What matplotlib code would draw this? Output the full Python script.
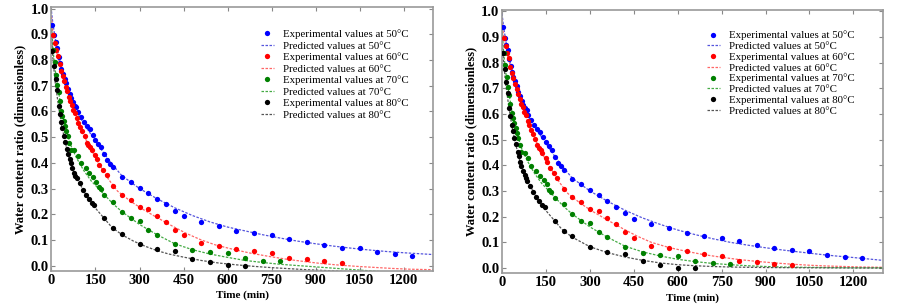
import matplotlib
matplotlib.use("Agg")
import matplotlib.pyplot as plt

plt.rcParams['font.family'] = ['Liberation Serif', 'DejaVu Serif']

# ---------------- experimental data (shared by both panels) ----------------
t50 = [3, 9, 15, 19, 24, 29, 34, 39, 45, 50, 55, 62, 68, 73, 80, 85, 89,
       100, 110, 120, 130, 140, 150, 160, 170, 180, 190, 200, 210,
       240, 270, 300, 330, 360, 390, 420, 450, 510, 570, 630, 690, 750,
       810, 870, 930, 990, 1050, 1110, 1170, 1230]
y50 = [0.938, 0.896, 0.870, 0.847, 0.812, 0.788, 0.765, 0.745, 0.727, 0.710,
       0.687, 0.668, 0.652, 0.635, 0.623, 0.617, 0.596,
       0.578, 0.558, 0.542, 0.531, 0.509, 0.490, 0.474, 0.460, 0.434, 0.410,
       0.397, 0.382,
       0.345, 0.326, 0.303, 0.284, 0.261, 0.239, 0.213, 0.192, 0.171, 0.156,
       0.135, 0.126, 0.118, 0.105, 0.091, 0.079, 0.069, 0.068, 0.051, 0.044,
       0.038]

t60 = [6, 12, 17, 22, 28, 34, 38, 44, 50, 54, 60, 64, 70, 75, 81, 87, 92,
       98, 105, 113, 121, 126, 132, 137, 150, 155, 163, 176, 188,
       210, 240, 270, 300, 330, 360, 390, 420, 450, 510, 570, 630, 690, 750,
       810, 870, 930, 990]
y60 = [0.896, 0.866, 0.838, 0.817, 0.784, 0.758, 0.739, 0.717, 0.697, 0.678,
       0.658, 0.639, 0.626, 0.607, 0.594, 0.574, 0.555, 0.538, 0.522, 0.503,
       0.479, 0.469, 0.460, 0.448, 0.430, 0.413, 0.391, 0.371, 0.352,
       0.309, 0.275, 0.256, 0.229, 0.221, 0.194, 0.170, 0.139, 0.118, 0.086,
       0.077, 0.065, 0.055, 0.048, 0.029, 0.025, 0.016, 0.012]

t70 = [6, 11, 16, 20, 25, 28, 33, 37, 41, 46, 51, 55, 61, 66, 77, 89, 100,
       117, 128, 142, 153, 162, 168, 180, 210, 240, 270, 300, 330, 360,
       420, 480, 540, 600, 660, 720, 780]
y70 = [0.838, 0.791, 0.743, 0.704, 0.674, 0.639, 0.603, 0.583, 0.564, 0.544,
       0.525, 0.505, 0.479, 0.451, 0.449, 0.427, 0.399, 0.379, 0.360, 0.344,
       0.326, 0.305, 0.297, 0.273, 0.248, 0.209, 0.184, 0.174, 0.139, 0.119,
       0.083, 0.060, 0.052, 0.048, 0.029, 0.018, 0.016]

t80 = [3, 9, 14, 19, 24, 28, 33, 37, 42, 47, 53, 57, 62, 66, 71, 77, 81, 86,
       96, 107, 117, 127, 137, 146, 180, 210, 240, 300, 360, 420, 480, 540,
       600, 660]
y80 = [0.836, 0.775, 0.726, 0.682, 0.623, 0.590, 0.557, 0.535, 0.505, 0.483,
       0.453, 0.435, 0.413, 0.399, 0.379, 0.362, 0.349, 0.340, 0.321, 0.295,
       0.275, 0.261, 0.245, 0.236, 0.184, 0.145, 0.123, 0.083, 0.064, 0.055,
       0.027, 0.013, 0.001, -0.001]

# ---------------- predicted curves, left panel ----------------
pt50_l = [0, 5, 15, 30, 60, 90, 120, 150, 180, 210, 240, 300, 360, 420, 480,
          540, 600, 660, 720, 780, 840, 900, 960, 1020, 1080, 1140, 1200, 1300]
pv50_l = [0.99, 0.94, 0.87, 0.79, 0.67, 0.59, 0.535, 0.485, 0.435, 0.39, 0.35,
          0.30, 0.26, 0.225, 0.195, 0.17, 0.15, 0.135, 0.12, 0.107, 0.095,
          0.085, 0.076, 0.068, 0.061, 0.055, 0.05, 0.043]

pt60_l = [0, 5, 20, 50, 75, 100, 135, 165, 195, 225, 270, 310, 355, 410, 460,
          510, 560, 620, 680, 740, 800, 860, 920, 980, 1040, 1100, 1160, 1220,
          1300]
pv60_l = [0.97, 0.90, 0.82, 0.70, 0.61, 0.53, 0.45, 0.39, 0.335, 0.29, 0.25,
          0.22, 0.19, 0.155, 0.125, 0.10, 0.08, 0.063, 0.048, 0.036, 0.025,
          0.016, 0.008, 0.002, -0.003, -0.007, -0.011, -0.014, -0.016]

pt70_l = [0, 5, 15, 25, 35, 50, 65, 85, 110, 135, 160, 185, 210, 240, 270,
          300, 330, 360, 420, 480, 540, 600, 660, 720, 780, 840, 900, 960,
          1020, 1080, 1140]
pv70_l = [0.93, 0.84, 0.74, 0.67, 0.60, 0.53, 0.47, 0.42, 0.37, 0.33, 0.30,
          0.27, 0.24, 0.21, 0.185, 0.16, 0.14, 0.12, 0.085, 0.062, 0.045,
          0.032, 0.02, 0.012, 0.005, 0.0, -0.005, -0.01, -0.015, -0.02, -0.025]

pt80_l = [0, 3, 12, 24, 34, 47, 60, 77, 96, 120, 145, 175, 205, 240, 280, 320,
          360, 400, 450, 510, 570, 630, 690, 750, 810, 870, 930, 990, 1050]
pv80_l = [0.92, 0.83, 0.72, 0.62, 0.55, 0.48, 0.42, 0.36, 0.32, 0.27, 0.23,
          0.19, 0.15, 0.12, 0.095, 0.075, 0.058, 0.045, 0.033, 0.02, 0.01,
          0.003, -0.003, -0.008, -0.012, -0.016, -0.019, -0.022, -0.025]

# ---------------- predicted curves, right panel ----------------
pt50_r = [0, 5, 15, 30, 60, 90, 120, 150, 180, 210, 240, 300, 360, 420, 480,
          540, 600, 660, 720, 780, 840, 900, 960, 1020, 1080, 1140, 1200, 1300]
pv50_r = [0.99, 0.94, 0.87, 0.79, 0.67, 0.59, 0.535, 0.485, 0.435, 0.39, 0.35,
          0.30, 0.26, 0.225, 0.195, 0.17, 0.148, 0.13, 0.114, 0.1, 0.089,
          0.079, 0.07, 0.062, 0.054, 0.047, 0.041, 0.03]

pt60_r = [0, 5, 20, 50, 75, 100, 135, 165, 195, 225, 270, 310, 355, 410, 460,
          510, 570, 630, 690, 750, 810, 870, 930, 990, 1050, 1110, 1170, 1230,
          1300]
pv60_r = [0.97, 0.90, 0.82, 0.70, 0.61, 0.53, 0.45, 0.39, 0.335, 0.29, 0.25,
          0.22, 0.19, 0.155, 0.125, 0.10, 0.08, 0.065, 0.052, 0.042, 0.033,
          0.026, 0.02, 0.015, 0.011, 0.008, 0.006, 0.004, 0.003]

pt70_r = [0, 5, 15, 25, 35, 50, 65, 85, 110, 135, 160, 185, 210, 240, 270,
          300, 330, 360, 420, 480, 540, 600, 660, 720, 780, 840, 900, 960,
          1020, 1100, 1200, 1300]
pv70_r = [0.93, 0.84, 0.74, 0.67, 0.60, 0.53, 0.47, 0.42, 0.37, 0.33, 0.30,
          0.27, 0.24, 0.21, 0.185, 0.16, 0.14, 0.12, 0.085, 0.063, 0.047,
          0.034, 0.025, 0.018, 0.013, 0.009, 0.006, 0.004, 0.003, 0.002,
          0.001, 0.001]

pt80_r = [0, 3, 12, 24, 34, 47, 60, 77, 96, 120, 145, 175, 205, 240, 300, 360,
          420, 480, 540, 600, 660, 720, 780, 900, 1050, 1300]
pv80_r = [0.92, 0.83, 0.72, 0.62, 0.55, 0.48, 0.42, 0.36, 0.32, 0.27, 0.23,
          0.19, 0.15, 0.12, 0.083, 0.06, 0.043, 0.03, 0.02, 0.013, 0.009,
          0.006, 0.004, 0.002, 0.001, 0.0]

temps = ['50', '60', '70', '80']
mcolors = ['#0000ff', '#ff0000', '#008000', '#000000']
lcolors = ['#5555dd', '#ff6666', '#44aa44', '#555555']
xticks = [0, 150, 300, 450, 600, 750, 900, 1050, 1200]
yticks = [0.0, 0.1, 0.2, 0.3, 0.4, 0.5, 0.6, 0.7, 0.8, 0.9, 1.0]

exp_t = [t50, t60, t70, t80]
exp_y = [y50, y60, y70, y80]
pred_left = [(pt50_l, pv50_l), (pt60_l, pv60_l), (pt70_l, pv70_l), (pt80_l, pv80_l)]
pred_right = [(pt50_r, pv50_r), (pt60_r, pv60_r), (pt70_r, pv70_r), (pt80_r, pv80_r)]

fig = plt.figure(figsize=(9.03, 3.08), dpi=100)
ax1 = fig.add_axes([0.057, 0.121, 0.4225, 0.855])
ax2 = fig.add_axes([0.556, 0.113, 0.4215, 0.855])

legend_anchor = {0: (0.955, 0.945), 1: (0.945, 0.95)}
legend_spacing = {0: 0.17, 1: 0.1}

for k, (ax, preds) in enumerate(((ax1, pred_left), (ax2, pred_right))):
    for i in range(4):
        ax.plot(exp_t[i], exp_y[i], 'o', color=mcolors[i], ms=3.8, mew=0,
                label=f'Experimental values at {temps[i]}°C', zorder=3)
        ax.plot(preds[i][0], preds[i][1], linestyle=(0, (2.0, 1.2)),
                color=lcolors[i], lw=0.9,
                label=f'Predicted values at {temps[i]}°C', zorder=2)
    ax.set_xlim(0, 1300)
    ax.set_ylim(-0.02, 1.005)
    ax.set_xticks(xticks)
    ax.set_yticks(yticks)
    ax.set_xticklabels([str(v) for v in xticks], fontweight='bold')
    ax.set_yticklabels([f'{v:.1f}' for v in yticks], fontweight='bold')
    ax.tick_params(direction='in', top=True, right=True, length=3,
                   width=0.8, color='#888888', labelsize=10.5, pad=2)
    for s in ax.spines.values():
        s.set_color('#999999')
        s.set_linewidth(1.2)
    ax.set_xlabel('Time (min)', fontsize=8, fontweight='bold', labelpad=3)
    ax.set_ylabel('Water content ratio (dimensionless)', fontsize=9,
                  fontweight='bold', labelpad=3)
    ax.legend(loc='upper right', bbox_to_anchor=legend_anchor[k],
              frameon=False, fontsize=7.8, handlelength=1.2,
              handletextpad=0.8, labelspacing=legend_spacing[k],
              borderpad=0.2, markerscale=1.0)

fig.savefig('out.png', dpi=100)
